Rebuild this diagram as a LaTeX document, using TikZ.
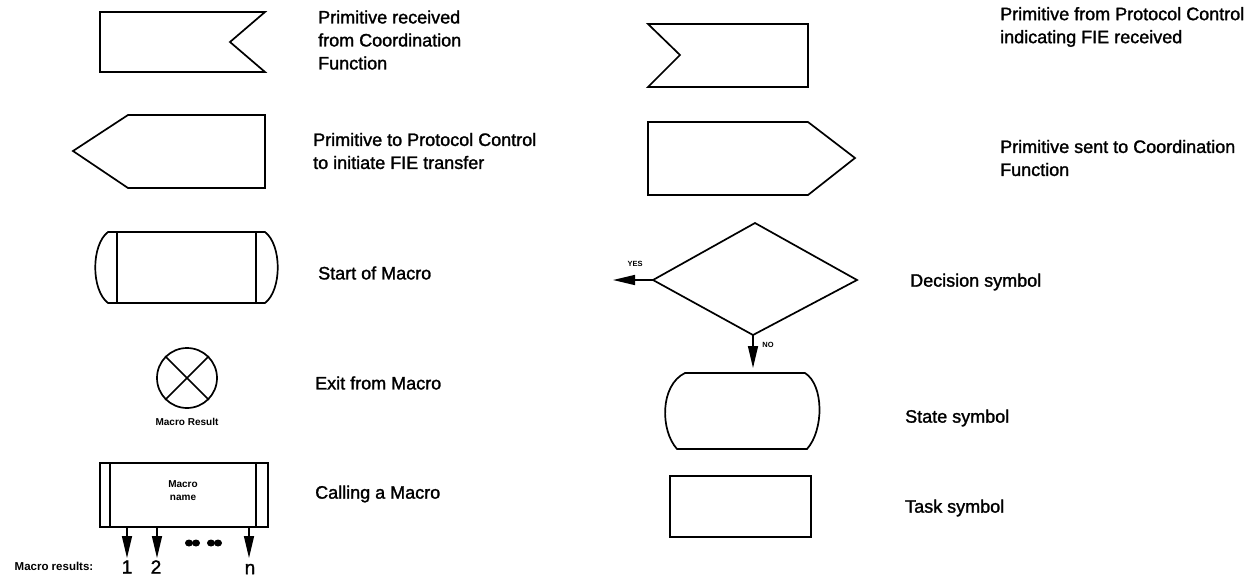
\documentclass[tikz,border=0pt]{standalone}
\usepackage{fontspec}
\setmainfont{Liberation Sans}
\newfontfamily\lbfont{Liberation Sans}[FakeBold=1.5]
\usetikzlibrary{arrows.meta}
\begin{document}
\begin{tikzpicture}[x=1pt,y=-1pt,
  shp/.style={draw,line width=1.7pt,line join=miter},
  thin/.style={draw,line width=1.1pt},
  lbl/.style={anchor=west,align=left,inner sep=0pt,font=\lbfont\fontsize{18}{23}\selectfont},
  tiny/.style={inner sep=0pt,font=\bfseries\fontsize{10}{12}\selectfont},
  arr/.style={line width=1.5pt,-{Triangle[length=22pt,width=10pt]}}]
\useasboundingbox (0,0) rectangle (1250,582);
% Row 1 left: primitive received
\draw[shp] (100,12) -- (265,12) -- (230,42) -- (265,72) -- (100,72) -- cycle;
\node[lbl] (t1) at (318,40) {Primitive received\\from Coordination\\Function};
% Row 1 right
\draw[shp] (648,24) -- (808,24) -- (808,87) -- (648,87) -- (680,55) -- cycle;
\node[lbl] (t2) at (1000,27) {Primitive from Protocol Control\\indicating FIE received};
% Row 2 left
\draw[shp] (73,151) -- (128,115) -- (265,115) -- (265,188) -- (128,188) -- cycle;
\node[lbl] (t3) at (313,151) {Primitive to Protocol Control\\to initiate FIE transfer};
% Row 2 right
\draw[shp] (648,122) -- (808,122) -- (855,158) -- (808,195) -- (648,195) -- cycle;
\node[lbl] (t4) at (1000,158) {Primitive sent to Coordination\\Function};
% Row 3 left: start of macro
\draw[shp] (108,232) -- (265,232) .. controls (282,245) and (282,290) .. (265,303) -- (108,303) .. controls (91,290) and (91,245) .. (108,232) -- cycle;
\draw[thin] (117,232) -- (117,303) (256,232) -- (256,303);
\node[lbl] (t5) at (318,273) {Start of Macro};
% Decision
\coordinate (dl) at (653,280);
\coordinate (dt) at (755,223);
\coordinate (dr) at (857,280);
\coordinate (db) at (753,335);
\draw[shp] (dl) -- (dt) -- (dr) -- (db) -- cycle;
\coordinate (yesend) at (613,280);
\coordinate (noend) at (753,368);
\draw[arr] (dl) -- (yesend);
\draw[arr] (db) -- (noend);
\node[tiny,font=\bfseries\fontsize{7.5}{8}\selectfont] (yes) at (635,264) {YES};
\node[tiny,font=\bfseries\fontsize{7.5}{8}\selectfont] (no) at (768,345) {NO};
\node[lbl] (t6) at (910,282) {Decision symbol};
% State
\draw[shp] (685,373) -- (805,373) .. controls (824,385) and (824,430) .. (807,449) -- (677,449) .. controls (660,430) and (660,385) .. (685,373) -- cycle;
\node[lbl] (t7) at (905,418) {State symbol};
% Task
\draw[shp] (670,476) rectangle (811,537);
\node[lbl] (t8) at (905,508) {Task symbol};
% Exit
\node[draw,circle,line width=1.7pt,minimum size=60pt,inner sep=0pt] (ex) at (187,378) {};
\draw[line width=1.7pt] (ex.north west) -- (ex.south east) (ex.north east) -- (ex.south west);
\node[tiny] (mr) at (187,422) {Macro Result};
\node[lbl] (t9) at (315,383) {Exit from Macro};
% Calling macro
\draw[shp] (100,463) rectangle (268,527);
\draw[thin] (110,463) -- (110,527) (256,463) -- (256,527);
\node[tiny,align=center,font=\bfseries\fontsize{10}{13}\selectfont] (mn) at (183,491) {Macro\\name};
\node[lbl] (t10) at (315,494) {Calling a Macro};
\coordinate (a1s) at (127,527); \coordinate (a1e) at (127,558);
\coordinate (a2s) at (157,527); \coordinate (a2e) at (157,558);
\coordinate (a3s) at (249,527); \coordinate (a3e) at (249,558);
\draw[arr] (a1s) -- (a1e);
\draw[arr] (a2s) -- (a2e);
\draw[arr] (a3s) -- (a3e);
\foreach \x in {189,196,211,218} \fill (\x,543) ellipse (4pt and 3.5pt);
\node[tiny,font=\bfseries\fontsize{11.5}{12}\selectfont] (mres) at (54,566) {Macro results:};
\node[inner sep=0pt,font=\lbfont\fontsize{19}{20}\selectfont] (n1) at (127,567) {1};
\node[inner sep=0pt,font=\lbfont\fontsize{19}{20}\selectfont] (n2) at (156,567) {2};
\node[inner sep=0pt,font=\lbfont\fontsize{19}{20}\selectfont] (nn) at (250,569) {n};
\end{tikzpicture}
\end{document}
